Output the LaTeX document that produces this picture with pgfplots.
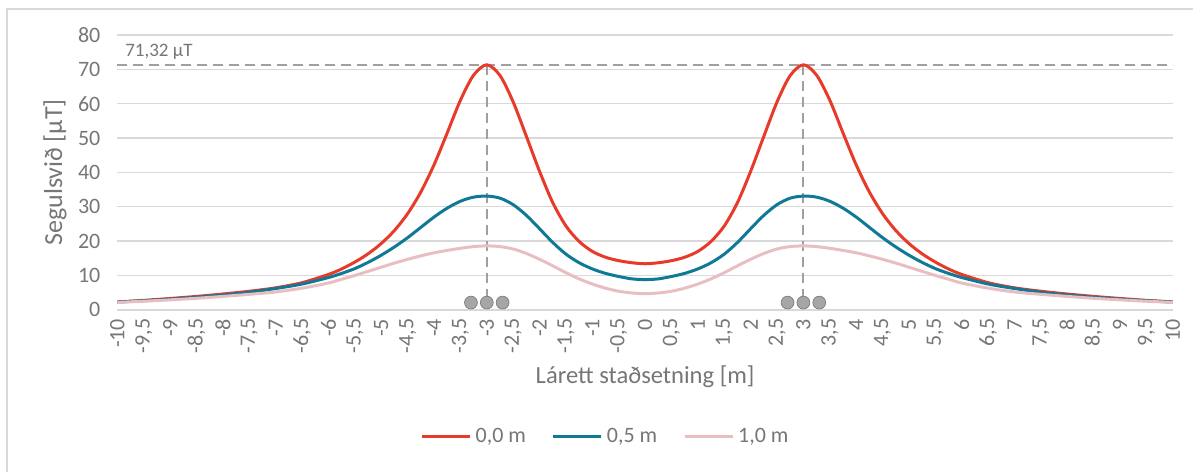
\documentclass[border=0pt]{standalone}
\usepackage{fontspec}
\setmainfont{Carlito}
\usepackage{pgfplots}
\usepackage{pgfplotstable}
\pgfplotsset{compat=1.18}

\definecolor{cRed}{RGB}{232,58,40}
\definecolor{cBlue}{RGB}{16,121,150}
\definecolor{cPink}{RGB}{233,190,194}
\definecolor{cGrid}{RGB}{217,217,217}
\definecolor{cText}{RGB}{118,118,118}
\definecolor{cDash}{RGB}{160,160,160}

% x = horizontal position [m], r/b/p = field at 0.0 / 0.5 / 1.0 m [uT]
\pgfplotstableread{
x      r      b      p
-10    2.3    2.25   2.15
-9.5   2.75   2.65   2.5
-9     3.3    3.1    2.9
-8.5   3.9    3.65   3.35
-8     4.6    4.3    3.9
-7.5   5.4    5.1    4.5
-7     6.4    6.2    5.2
-6.5   7.9    7.5    6.3
-6     10.3   9.4    7.8
-5.75  11.9   10.6   8.9
-5.5   13.9   12.0   10.0
-5.25  16.3   13.8   11.2
-5     19.3   15.9   12.4
-4.75  23.1   18.3   13.6
-4.5   28.0   21.0   14.7
-4.25  34.3   24.0   15.7
-4     42.2   27.0   16.6
-3.75  51.5   29.6   17.3
-3.5   61.0   31.6   17.9
-3.25  68.3   32.8   18.4
-3     71.32  33.1   18.6
-2.75  68.2   32.5   18.4
-2.5   60.5   30.6   17.7
-2.25  50.5   27.5   16.4
-2     40.3   23.6   14.7
-1.75  31.2   19.6   12.8
-1.5   24.4   16.2   10.8
-1.25  19.9   13.7   9.0
-1     17.0   11.9   7.5
-0.75  15.3   10.6   6.3
-0.5   14.3   9.7    5.4
-0.25  13.7   9.0    4.9
0      13.4   8.8    4.7
0.25   13.7   9.0    4.9
0.5    14.3   9.7    5.4
0.75   15.3   10.6   6.3
1      17.0   11.9   7.5
1.25   19.9   13.7   9.0
1.5    24.4   16.2   10.8
1.75   31.2   19.6   12.8
2      40.3   23.6   14.7
2.25   50.5   27.5   16.4
2.5    60.5   30.6   17.7
2.75   68.2   32.5   18.4
3      71.32  33.1   18.6
3.25   68.3   32.8   18.4
3.5    61.0   31.6   17.9
3.75   51.5   29.6   17.3
4      42.2   27.0   16.6
4.25   34.3   24.0   15.7
4.5    28.0   21.0   14.7
4.75   23.1   18.3   13.6
5      19.3   15.9   12.4
5.25   16.3   13.8   11.2
5.5    13.9   12.0   10.0
5.75   11.9   10.6   8.9
6      10.3   9.4    7.8
6.5    7.9    7.5    6.3
7      6.4    6.2    5.2
7.5    5.4    5.1    4.5
8      4.6    4.3    3.9
8.5    3.9    3.65   3.35
9      3.3    3.1    2.9
9.5    2.75   2.65   2.5
10     2.3    2.25   2.15
}\field

\begin{document}
\begin{tikzpicture}
\begin{axis}[
  scale only axis,
  width=528pt, height=137.5pt,
  xmin=-10, xmax=10, ymin=0, ymax=80,
  axis line style={draw=none},
  major tick length=0pt,
  xtick={-10,-9.5,...,10},
  ytick={0,10,...,80},
  ymajorgrids,
  grid style={cGrid, line width=0.75pt},
  /pgf/number format/assume math mode=true,
  /pgf/number format/use comma,
  /pgf/number format/1000 sep={},
  tick label style={font=\fontsize{11}{13}\selectfont, text=cText},
  xticklabel style={rotate=90, anchor=east, xshift=-1pt},
  yticklabel style={xshift=-5pt},
  xlabel={Lárett staðsetning [m]},
  ylabel={Segulsvið [µT]},
  xlabel style={at={(axis description cs:0.5,-0.2436)}, anchor=center,
    font=\fontsize{12.3}{14}\selectfont, text=cText},
  ylabel style={at={(axis description cs:-0.0592,0.5)}, anchor=center,
    font=\fontsize{13}{15}\selectfont, text=cText},
  legend columns=3,
  legend style={draw=none, fill=none, at={(axis description cs:0.4635,-0.4618)}, anchor=center,
    font=\fontsize{11}{13}\selectfont, text=cText,
    /tikz/every even column/.append style={column sep=11pt}},
  legend image code/.code={\draw[#1, line width=1.5pt] (0pt,0pt) -- (24pt,0pt);},
  clip=false,
]
\addplot[cDash, line width=1pt, dash pattern=on 5pt off 3pt, forget plot] coordinates {(-10,71.32) (10,71.32)};
\addplot[cDash, line width=1pt, dash pattern=on 5pt off 3pt, forget plot] coordinates {(-3,71.32) (-3,2.1)};
\addplot[cDash, line width=1pt, dash pattern=on 5pt off 3pt, forget plot] coordinates {(3,71.32) (3,2.1)};
\addplot[cRed, line width=1.5pt, smooth] table[x=x, y=r] {\field};
\addlegendentry{0,0 m}
\addplot[cBlue, line width=1.5pt, smooth] table[x=x, y=b] {\field};
\addlegendentry{0,5 m}
\addplot[cPink, line width=1.5pt, smooth] table[x=x, y=p] {\field};
\addlegendentry{1,0 m}
\addplot[only marks, mark=*, mark size=3.2pt, mark options={fill={rgb,255:red,166;green,166;blue,166}, draw={rgb,255:red,130;green,130;blue,130}, line width=0.4pt}, forget plot]
  coordinates {(-3.3,2.1) (-3,2.1) (-2.7,2.1) (2.7,2.1) (3,2.1) (3.3,2.1)};
\node[anchor=west, inner sep=0pt, xshift=3.75pt, text=cText, font=\fontsize{9.5}{11}\selectfont] at (axis cs:-10,75.2) {71,32 µT};
\end{axis}
\draw[cGrid, line width=0.75pt] (-55.25pt,-81pt) -- (-55.25pt,150.5pt) -- (538.25pt,150.5pt);
\useasboundingbox (-58.75pt,-81pt) rectangle (538.25pt,155pt);
\end{tikzpicture}
\end{document}
